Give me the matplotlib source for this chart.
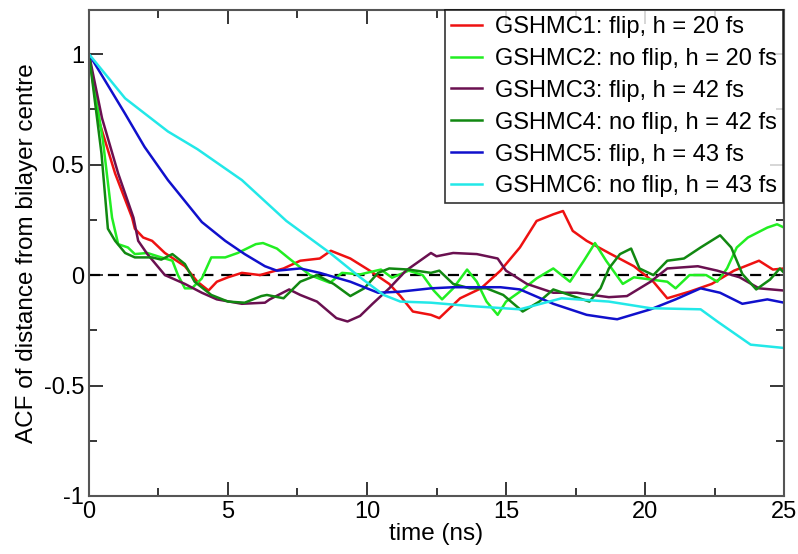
import matplotlib.pyplot as plt
from matplotlib.ticker import MultipleLocator

plt.rcParams['font.family'] = ['Liberation Sans', 'DejaVu Sans']

# values (time in ns, ACF)
t1 = [0, 0.33, 0.94, 1.55, 1.65, 1.95, 2.27, 2.73, 3.45, 3.9, 4.3, 4.6, 5.0, 5.5, 6.15, 7.0, 7.6,
      8.3, 8.7, 9.4, 10.1, 10.8, 11.2, 11.65, 12.3, 12.6, 13.35, 14.1, 14.8, 15.5, 16.1, 16.7,
      17.05, 17.4, 17.9, 18.7, 19.6, 20.3, 20.8, 21.6, 22.4, 23.2, 24.1, 24.6, 25]
acf1 = [1.0, 0.71, 0.46, 0.26, 0.21, 0.17, 0.155, 0.10, 0.04, -0.03, -0.07, -0.03, -0.01, 0.01,
        0.0, 0.03, 0.065, 0.075, 0.11, 0.075, 0.02, -0.04, -0.095, -0.165, -0.18, -0.195, -0.105,
        -0.06, 0.02, 0.125, 0.245, 0.275, 0.29, 0.2, 0.155, 0.1, 0.04, -0.03, -0.105, -0.075,
        -0.04, 0.02, 0.065, 0.025, 0.03]

t2 = [0, 0.5, 0.83, 1.05, 1.4, 1.65, 2.1, 2.6, 3.0, 3.2, 3.45, 3.7, 4.06, 4.4, 4.9, 5.35, 6.0,
      6.26, 6.76, 7.2, 7.95, 8.67, 9.1, 9.75, 10.5, 10.9, 11.5, 12.0, 12.4, 12.7, 13.1, 13.6,
      13.95, 14.3, 14.7, 15.0, 15.5, 16.1, 16.7, 17.3, 17.8, 18.2, 18.6, 19.2, 19.6, 20.2,
      20.8, 21.1, 21.6, 22.2, 22.6, 22.95, 23.3, 23.7, 24.4, 24.75, 25]
acf2 = [1.0, 0.61, 0.26, 0.14, 0.125, 0.095, 0.10, 0.08, 0.065, 0.0, -0.06, -0.06, -0.015, 0.08,
        0.08, 0.10, 0.14, 0.145, 0.12, 0.075, 0.0, -0.035, 0.01, 0.003, 0.025, -0.012, 0.02,
        0.0, -0.07, -0.11, -0.06, 0.025, -0.03, -0.12, -0.18, -0.12, -0.075, -0.015, 0.03,
        -0.03, 0.065, 0.145, 0.065, -0.04, -0.01, -0.02, -0.03, -0.06, 0.0, 0.0, -0.03, 0.03,
        0.125, 0.17, 0.215, 0.23, 0.215]

t3 = [0, 0.47, 1.05, 1.6, 1.77, 2.1, 2.73, 3.45, 4.06, 4.6, 5.5, 6.33, 6.5, 7.2, 7.6, 8.2, 8.9,
      9.3, 9.75, 10.2, 10.8, 11.4, 12.3, 12.5, 13.1, 13.95, 14.7, 15.0, 15.75, 16.7, 17.55,
      18.4, 18.7, 19.35, 20.2, 20.8, 21.9, 22.6, 23.4, 24.1, 25]
acf3 = [1.0, 0.71, 0.46, 0.26, 0.155, 0.095, 0.0, -0.04, -0.08, -0.11, -0.13, -0.125, -0.11,
        -0.065, -0.09, -0.12, -0.195, -0.21, -0.185, -0.13, -0.06, 0.02, 0.10, 0.085, 0.10,
        0.095, 0.075, 0.02, -0.04, -0.08, -0.08, -0.095, -0.1, -0.095, -0.03, 0.03, 0.04,
        0.02, -0.01, -0.06, -0.07]

t4 = [0, 0.45, 0.68, 0.94, 1.3, 1.65, 2.27, 2.6, 3.0, 3.45, 3.8, 4.4, 5.0, 5.6, 6.2, 6.4, 7.0,
      7.6, 8.2, 8.8, 9.4, 9.9, 10.4, 10.8, 11.5, 12.3, 12.6, 13.1, 13.7, 14.3, 14.9, 15.6,
      16.2, 16.7, 17.4, 18.0, 18.4, 18.7, 19.1, 19.5, 19.8, 20.3, 20.8, 21.4, 22.0, 22.7,
      23.1, 23.5, 24.0, 24.5, 24.85, 25]
acf4 = [1.0, 0.55, 0.21, 0.155, 0.10, 0.08, 0.08, 0.07, 0.095, 0.05, -0.03, -0.09, -0.12,
        -0.125, -0.095, -0.09, -0.105, -0.03, 0.0, -0.04, -0.095, -0.06, 0.01, 0.03, 0.025,
        0.01, 0.02, -0.04, -0.06, -0.06, -0.09, -0.165, -0.12, -0.065, -0.095, -0.12, -0.06,
        0.03, 0.095, 0.12, 0.03, 0.0, 0.065, 0.075, 0.125, 0.18, 0.125, 0.005, -0.065, -0.02,
        0.03, 0.01]

t5 = [0, 0.58, 1.3, 2.0, 2.84, 4.06, 4.9, 5.6, 6.33, 6.76, 7.6, 8.3, 9.4, 10.4, 11.2, 12.3,
      13.1, 14.8, 15.5, 16.7, 17.9, 18.7, 19.0, 20.2, 21.1, 22.0, 22.7, 23.5, 24.4, 25]
acf5 = [1.0, 0.88, 0.73, 0.58, 0.43, 0.24, 0.155, 0.095, 0.04, 0.02, 0.03, 0.01, -0.03, -0.08,
        -0.075, -0.06, -0.055, -0.055, -0.065, -0.13, -0.18, -0.195, -0.2, -0.155, -0.11,
        -0.06, -0.08, -0.13, -0.11, -0.125]

t6 = [0, 1.3, 2.84, 3.9, 5.5, 7.1, 8.67, 9.75, 10.6, 11.2, 12.3, 13.7, 15.5, 17.0, 18.7, 20.2,
      22.0, 22.6, 23.8, 25]
acf6 = [1.0, 0.80, 0.65, 0.57, 0.43, 0.245, 0.10, -0.01, -0.09, -0.12, -0.125, -0.14, -0.155,
        -0.105, -0.12, -0.15, -0.155, -0.21, -0.315, -0.33]

labels = ['GSHMC1: flip, h = 20 fs', 'GSHMC2: no flip, h = 20 fs', 'GSHMC3: flip, h = 42 fs',
          'GSHMC4: no flip, h = 42 fs', 'GSHMC5: flip, h = 43 fs', 'GSHMC6: no flip, h = 43 fs']
colors = ['#ee1111', '#22ee22', '#6a1050', '#118811', '#1010cc', '#22e8e8']

fig = plt.figure(figsize=(7.98, 5.54), dpi=100)
ax = fig.add_axes([0.1115, 0.1047, 0.871, 0.8773])

for t, a, lab, c in zip([t1, t2, t3, t4, t5, t6], [acf1, acf2, acf3, acf4, acf5, acf6],
                        labels, colors):
    ax.plot(t, a, color=c, lw=1.8, label=lab)

ax.axhline(0, color='black', lw=1.6, ls=(0, (5, 3.5)), zorder=0)

ax.set_xlim(0, 25)
ax.set_ylim(-1, 1.2)
ax.xaxis.set_minor_locator(MultipleLocator(2.5))
ax.yaxis.set_minor_locator(MultipleLocator(0.25))
ax.set_yticks([-1, -0.5, 0, 0.5, 1])
ax.set_yticklabels(['-1', '-0.5', '0', '0.5', '1'])
ax.set_xticks([0, 5, 10, 15, 20, 25])
ax.set_xticklabels(['0', '5', '10', '15', '20', '25'])
ax.tick_params(which='both', direction='in', top=True, right=True, labelsize=17, width=1.1)
ax.tick_params(which='major', length=10)
ax.tick_params(which='minor', length=5.5)
for s in ax.spines.values():
    s.set_color('#555555')
    s.set_linewidth(1.5)

ax.set_xlabel('time (ns)', fontsize=17.5, labelpad=0)
ax.set_ylabel('ACF of distance from bilayer centre', fontsize=17.5, labelpad=4)

leg = ax.legend(loc='upper right', bbox_to_anchor=(0.998, 1.0), borderaxespad=0,
                fontsize=17, frameon=True, fancybox=False, edgecolor='black',
                handlelength=1.3, handletextpad=0.55, labelspacing=0.42, borderpad=0.25)
leg.get_frame().set_linewidth(1.2)

fig.savefig('out.png', dpi=100)
